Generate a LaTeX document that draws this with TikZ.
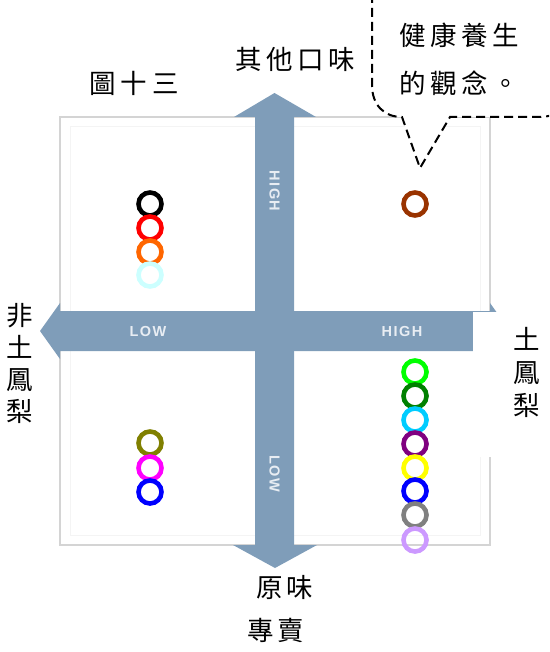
\documentclass[tikz,border=0pt]{standalone}
\usepackage{fontspec}
\newfontfamily\cjk{Noto Sans CJK TC}
\newfontfamily\lblf[LetterSpace=10]{Liberation Sans}
\definecolor{arrowc}{HTML}{7F9DB9}
\definecolor{framec}{HTML}{D4D4D4}
\definecolor{c1}{HTML}{000000}
\definecolor{c2}{HTML}{FF0000}
\definecolor{c3}{HTML}{FF6600}
\definecolor{c4}{HTML}{CCFFFF}
\definecolor{c5}{HTML}{808000}
\definecolor{c6}{HTML}{FF00FF}
\definecolor{c7}{HTML}{0000FF}
\definecolor{c8}{HTML}{993300}
\definecolor{c9}{HTML}{00FF00}
\definecolor{c10}{HTML}{008000}
\definecolor{c11}{HTML}{00CCFF}
\definecolor{c12}{HTML}{800080}
\definecolor{c13}{HTML}{FFFF00}
\definecolor{c14}{HTML}{808080}
\definecolor{c15}{HTML}{CC99FF}
\tikzset{
  ring/.style={circle, draw=#1, line width=4.6pt, minimum size=23pt, inner sep=0pt},
  cjklabel/.style={inner sep=0pt, font=\cjk\fontsize{26.5}{33}\selectfont, align=center},
  axislabel/.style={inner sep=0pt, text=white!82!arrowc, font=\lblf\bfseries\fontsize{14.5}{16}\selectfont},
  bubble/.style={draw=black, line width=2pt, dash pattern=on 9pt off 5pt, fill=white},
}
\begin{document}
\begin{tikzpicture}[x=1pt,y=-1pt]
\useasboundingbox (0,0) rectangle (549,652);
\clip (0,0) rectangle (549,652);
% frame
\draw[framec, line width=2pt] (60,117) rectangle (490,545);
\draw[framec!25, line width=1pt] (70,127) rectangle (480,535);
% arrows
\fill[arrowc] (40,331) -- (60,303) -- (60,311) -- (490,311) -- (490,303) -- (510,331)
  -- (490,359) -- (490,351) -- (60,351) -- (60,359) -- cycle;
\fill[arrowc] (274.5,93) -- (316,117) -- (294,117) -- (294,545) -- (317,545) -- (275,568)
  -- (233,545) -- (255,545) -- (255,117) -- (234,117) -- cycle;
\node[axislabel, rotate=-90] (vhigh) at (274.5,191) {HIGH};
\node[axislabel, rotate=-90] (vlow) at (274.5,474) {LOW};
\node[axislabel] (hlow) at (148,332) {LOW};
\node[axislabel] (hhigh) at (402,332) {HIGH};
% right label box
\fill[white] (473,312) rectangle (560,457);
\node[cjklabel] (tu) at (527,372) {土\\鳳\\梨};
\node[cjklabel, font=\cjk\fontsize{26.5}{32}\selectfont] (feitu) at (20,363) {非\\土\\鳳\\梨};
% speech bubble
\draw[bubble] (372,-20) -- (372,85) .. controls (372,105) and (384,117) .. (402,117)
  -- (420,168) -- (450,117) -- (540,117) .. controls (558,117) and (570,105) .. (570,85)
  -- (570,-20);
\node[cjklabel, anchor=west] (b1) at (399,35) {健\hspace{4.5pt}康\hspace{4.5pt}養\hspace{4.5pt}生};
\node[cjklabel, anchor=west] (b2) at (399,83) {的\hspace{4.5pt}觀\hspace{4.5pt}念\hspace{4.5pt}。};
% other labels
\node[cjklabel] (title) at (134,83) {圖\hspace{5pt}十\hspace{5pt}三};
\node[cjklabel] (other) at (295,59) {其\hspace{4.5pt}他\hspace{4.5pt}口\hspace{4.5pt}味};
\node[cjklabel] (orig) at (285,587) {原\hspace{4pt}味};
\node[cjklabel] (spec) at (276,630) {專\hspace{4pt}賣};
% rings: top-left
\node[ring=c1] (r1) at (150,204) {};
\node[ring=c2] (r2) at (150,228) {};
\node[ring=c3] (r3) at (150,252) {};
\node[ring=c4] (r4) at (150,275) {};
% bottom-left
\node[ring=c5] (r5) at (150,443) {};
\node[ring=c6] (r6) at (150,468) {};
\node[ring=c7] (r7) at (150,492) {};
% top-right
\node[ring=c8] (r8) at (415,204) {};
% bottom-right
\node[ring=c9] (r9) at (415,372) {};
\node[ring=c10] (r10) at (415,396) {};
\node[ring=c11] (r11) at (415,420) {};
\node[ring=c12] (r12) at (415,444) {};
\node[ring=c13] (r13) at (415,468) {};
\node[ring=c7] (r14) at (415,491) {};
\node[ring=c14] (r15) at (415,515) {};
\node[ring=c15] (r16) at (415,540) {};
\end{tikzpicture}
\end{document}
